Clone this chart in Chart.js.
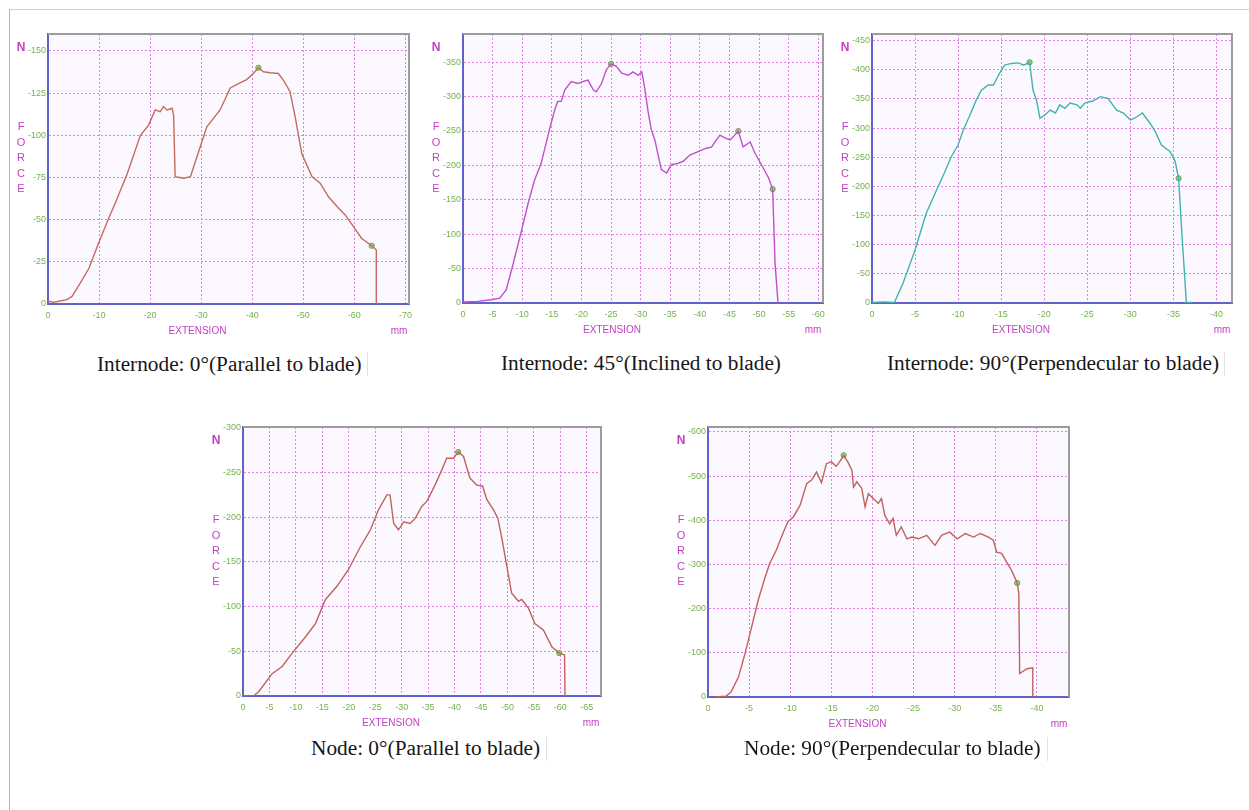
<!DOCTYPE html>
<html>
<head>
<meta charset="utf-8">
<script src="https://cdn.jsdelivr.net/npm/chart.js@4/dist/chart.umd.min.js"></script>
<style>
  html, body { margin:0; padding:0; background:#fff; }
  body { width:1249px; height:810px; position:relative; overflow:hidden; }
  canvas { position:absolute; }
  .frame { position:absolute; left:9px; top:9px; right:0; bottom:0; border-top:1px solid #cfcfcf; border-left:1px solid #b4b4b4; }
  .cap { position:absolute; font-family:"Liberation Serif","Times New Roman",serif; font-size:21.3px; color:#161616; white-space:nowrap; line-height:22px; }
  .vl { position:absolute; width:1px; background:#e2e2e2; }
</style>
</head>
<body>
<div class="frame"></div>
<script>
// ---------- DATA ----------
// Internode 0° (Parallel to blade)
const in0X = [0,1.1,2.1,3.7,4.7,6.3,8,9.9,11.5,13.2,15.5,18.1,19.7,21,22,22.6,23.3,24.3,24.6,24.9,26.6,27.9,28.5,29.8,31.1,32.4,33.7,35.7,37.6,38.9,40.2,41.2,42.2,43.5,45.1,46.1,47.4,48.4,49.7,51.7,53.3,54.9,56.6,58.2,59.8,61.4,63.4,64.3,64.3];
const in0Y = [1.6,1,1.6,2.6,4.5,12.4,21,36,48,60,77,100,106,115,114,117,115,116,112,75.5,74.5,75.5,81,93,105,110,115,128,131,133,136.6,140,137.6,137,136.6,132.7,125.8,111,89,75.5,71.6,63.7,57.8,52.8,46,39,34.5,32,0];
const in0MarkX = [41.2, 63.4];
const in0MarkY = [140, 34.5];
const in0XTicks = [0,10,20,30,40,50,60,70];
const in0YTicks = [0,25,50,75,100,125,150];

// Internode 45° (Inclined to blade)
const in45X = [0,2.5,4.8,6.2,7.3,8.5,9.9,11,12.1,13.2,14.6,15.5,16,16.6,17.2,18.3,19.4,20.3,21.1,22,22.5,23.4,24.2,25,25.9,26.8,27.9,28.7,29.6,30.2,30.7,31.3,31.8,32.4,33,33.5,34.4,35.2,36.3,37.2,38.3,39.7,41.1,42,42.8,43.4,44.2,45.1,45.9,46.5,47.3,48.5,49.3,50.4,51.6,52.3,52.7,53.2];
const in45Y = [1.5,2.4,4.8,7,19,58,106,145,179,203,252,281,293,293,310,322,319,322,324,310,307,319,339,347.5,344,334,331,336,331,336,312,276,252,237,213,194,189,201,203,206,215,220,225,227,237,244,240,237,244,250,227,234,218,201,182,165.5,58,0];
const in45MarkX = [25, 46.5, 52.3];
const in45MarkY = [347.5, 250, 165.5];
const in45XTicks = [0,5,10,15,20,25,30,35,40,45,50,55,60];
const in45YTicks = [0,50,100,150,200,250,300,350];

// Internode 90° (Perpendecular to blade)
const in90X = [0,1.3,2.6,3.6,5,6.3,7.5,8.4,9.2,10,10.6,11.3,12.1,12.7,13.5,14.1,14.8,15.4,16.2,17,17.6,18.3,18.7,19.1,19.5,20.1,20.7,21.3,21.8,22.4,23,23.8,24.2,24.7,25.7,26.5,27.4,28.4,29.2,30,30.5,31.4,32.3,32.9,33.6,34.6,35.2,35.6,36,36.2,36.5,37.1];
const in90Y = [1,2,1,34,91,154,194,223,251,271,297,320,348,365,374,374,394,408,411,412,408,413,365,348,317,323,331,326,340,334,343,340,334,343,347,354,351,331,326,314,317,326,308,294,271,260,243,214,114,69,1,1];
const in90MarkX = [18.3, 35.6];
const in90MarkY = [413, 214];
const in90XTicks = [0,5,10,15,20,25,30,35,40];
const in90YTicks = [0,50,100,150,200,250,300,350,400,450];

// Node 0° (Parallel to blade)
const n0X = [0,2,3,5.5,7.4,9.3,11.8,13.7,15.6,17.8,19.9,22.2,24.1,25.6,27.2,27.8,28.5,29.4,30.4,31.6,32.6,33.8,34.8,36.3,37.6,38.5,39.8,40.7,41.7,42.9,44.2,45.3,46.1,47.4,48.2,49,49.9,50.8,52.1,52.7,54,55.2,56.8,58.4,59.8,60.8,60.9];
const n0Y = [0,0,5,25,33,48,66,81,108,123,141,167,186,208,225,225,193,186,195,193,199,212,218,236,253,266,266,273,268,244,236,235,220,208,199,175,145,115,106,108,98,81,74,55,48,46,0];
const n0MarkX = [40.7, 59.8];
const n0MarkY = [273, 48];
const n0XTicks = [0,5,10,15,20,25,30,35,40,45,50,55,60,65];
const n0YTicks = [0,50,100,150,200,250,300];

// Node 90° (Perpendecular to blade)
const n90X = [0.8,2.2,2.8,3.7,4.5,5.3,6.1,6.9,7.5,8.3,9.1,9.7,10.4,11.2,12,12.6,13.2,13.8,14.4,15,15.6,16,16.5,17,17.5,17.7,18.1,18.7,19.1,19.5,20.1,20.7,21.1,21.5,22.1,22.5,22.9,23.5,24.2,24.8,25.6,26.6,27.6,28.4,29.4,30.3,31.3,32.3,33.1,34.1,34.7,35.1,35.7,36.3,36.9,37.6,37.8,37.9,38.8,39.5,39.5];
const n90Y = [0,2,11,45,98,158,219,268,302,332,370,396,408,434,483,491,509,485,528,532,522,532,547,532,513,475,487,472,430,460,449,438,449,411,392,404,366,385,358,362,358,366,343,366,373,358,370,362,370,362,355,328,325,306,287,258,234,53,64,66,0];
const n90MarkX = [16.5, 37.6];
const n90MarkY = [547, 258];
const n90XTicks = [0,5,10,15,20,25,30,35,40];
const n90YTicks = [0,100,200,300,400,500,600];

const captions = [
  "Internode: 0°(Parallel to blade)",
  "Internode: 45°(Inclined to blade)",
  "Internode: 90°(Perpendecular to blade)",
  "Node: 0°(Parallel to blade)",
  "Node: 90°(Perpendecular to blade)"
];

// ---------- LAYOUT ----------
const panels = [
  {x:in0X, y:in0Y, mx:in0MarkX, my:in0MarkY, xt:in0XTicks, yt:in0YTicks, xmax:70.7, ymax:160, color:'#c66a5f',
   l:48, t:34, r:409, b:304, cap:{x:97, y:353}, vl:{x:367, y:352}},
  {x:in45X, y:in45Y, mx:in45MarkX, my:in45MarkY, xt:in45XTicks, yt:in45YTicks, xmax:60.8, ymax:391, color:'#c24fca',
   l:463, t:34, r:823, b:303, cap:{x:501, y:352}, vl:null},
  {x:in90X, y:in90Y, mx:in90MarkX, my:in90MarkY, xt:in90XTicks, yt:in90YTicks, xmax:41.8, ymax:461.5, color:'#3fb4b0',
   l:872, t:34, r:1232, b:303, cap:{x:887, y:352}, vl:{x:1224, y:352}},
  {x:n0X, y:n0Y, mx:n0MarkX, my:n0MarkY, xt:n0XTicks, yt:n0YTicks, xmax:67.7, ymax:301, color:'#c2625c',
   l:243, t:427, r:601, b:696, cap:{x:311, y:737}, vl:{x:546, y:737}},
  {x:n90X, y:n90Y, mx:n90MarkX, my:n90MarkY, xt:n90XTicks, yt:n90YTicks, xmax:43.9, ymax:611, color:'#c2625c',
   l:708, t:427, r:1069, b:697, cap:{x:744, y:737}, vl:{x:1047, y:737}}
];

const PADL = 40, PADT = 10, PADR = 12, PADB = 40;
const MAG = '#c23fc2';
const TICKC = '#74b24c';

const decor = {
  id:'decor',
  beforeDraw(chart){
    const {ctx, chartArea:a} = chart;
    ctx.save();
    ctx.fillStyle = '#fbf9ff';
    ctx.fillRect(a.left, a.top, a.right-a.left, a.bottom-a.top);
    ctx.restore();
  },
  afterDraw(chart){
    const {ctx, chartArea:a} = chart;
    ctx.save();
    ctx.strokeStyle = '#9c9c9c'; ctx.lineWidth = 2;
    ctx.beginPath(); ctx.moveTo(a.left, a.top); ctx.lineTo(a.right, a.top); ctx.lineTo(a.right, a.bottom); ctx.stroke();
    ctx.fillStyle = MAG;
    ctx.textAlign = 'center'; ctx.textBaseline = 'middle';
    ctx.font = 'bold 12px "Liberation Sans"';
    ctx.fillText('N', a.left-27, a.top+14);
    ctx.font = '11px "Liberation Sans"';
    'FORCE'.split('').forEach((ch,i)=>ctx.fillText(ch, a.left-27, a.top+93+i*15.5));
    ctx.font = '10px "Liberation Sans"';
    ctx.fillText('EXTENSION', (a.left+a.right)/2 - 31, a.bottom+27);
    ctx.fillText('mm', a.right-10, a.bottom+27);
    ctx.restore();
  }
};

const lbl = v => v === 0 ? '0' : '-' + v;

panels.forEach((p) => {
  const cv = document.createElement('canvas');
  const W = (p.r - p.l) + PADL + PADR, H = (p.b - p.t) + PADT + PADB;
  cv.width = W; cv.height = H;
  cv.style.left = (p.l - PADL) + 'px'; cv.style.top = (p.t - PADT) + 'px';
  cv.style.width = W + 'px'; cv.style.height = H + 'px';
  document.body.appendChild(cv);

  new Chart(cv, {
    type:'line',
    data:{datasets:[
      {data:p.x.map((v,i)=>({x:v, y:p.y[i]})), borderColor:p.color, borderWidth:1.4, pointRadius:0, tension:0, fill:false},
      {data:p.mx.map((v,i)=>({x:v, y:p.my[i]})), showLine:false, pointRadius:2.6, pointBackgroundColor:'#9fcf7f', pointBorderColor:'#6aa24a', pointBorderWidth:1}
    ]},
    options:{
      responsive:false, animation:false, devicePixelRatio:1,
      layout:{padding:{left:0, top:PADT, right:PADR, bottom:0}},
      plugins:{legend:{display:false}, tooltip:{enabled:false}},
      scales:{
        x:{type:'linear', min:0, max:p.xmax,
           afterFit:s=>{s.height = PADB;},
           afterBuildTicks:s=>{s.ticks = p.xt.map(v=>({value:v}));},
           grid:{color:'#e27fe2', lineWidth:1, drawTicks:false},
           border:{color:'#6262cc', width:2, dash:[2,2]},
           ticks:{color:TICKC, font:{family:'"Liberation Sans"', size:9}, padding:6, maxRotation:0, autoSkip:false, callback:lbl}},
        y:{type:'linear', min:0, max:p.ymax,
           afterFit:s=>{s.width = PADL;},
           afterBuildTicks:s=>{s.ticks = p.yt.map(v=>({value:v}));},
           grid:{color:'#e27fe2', lineWidth:1, drawTicks:false},
           border:{color:'#6262cc', width:2, dash:[2,2]},
           ticks:{color:TICKC, font:{family:'"Liberation Sans"', size:9}, padding:2, autoSkip:false, callback:lbl}}
      }
    },
    plugins:[decor]
  });
});

panels.forEach((p, i) => {
  const d = document.createElement('div');
  d.className = 'cap'; d.textContent = captions[i];
  d.style.left = p.cap.x + 'px'; d.style.top = p.cap.y + 'px';
  document.body.appendChild(d);
  if (p.vl) {
    const v = document.createElement('div');
    v.className = 'vl'; v.style.left = p.vl.x + 'px'; v.style.top = p.vl.y + 'px'; v.style.height = '24px';
    document.body.appendChild(v);
  }
});
</script>
</body>
</html>
